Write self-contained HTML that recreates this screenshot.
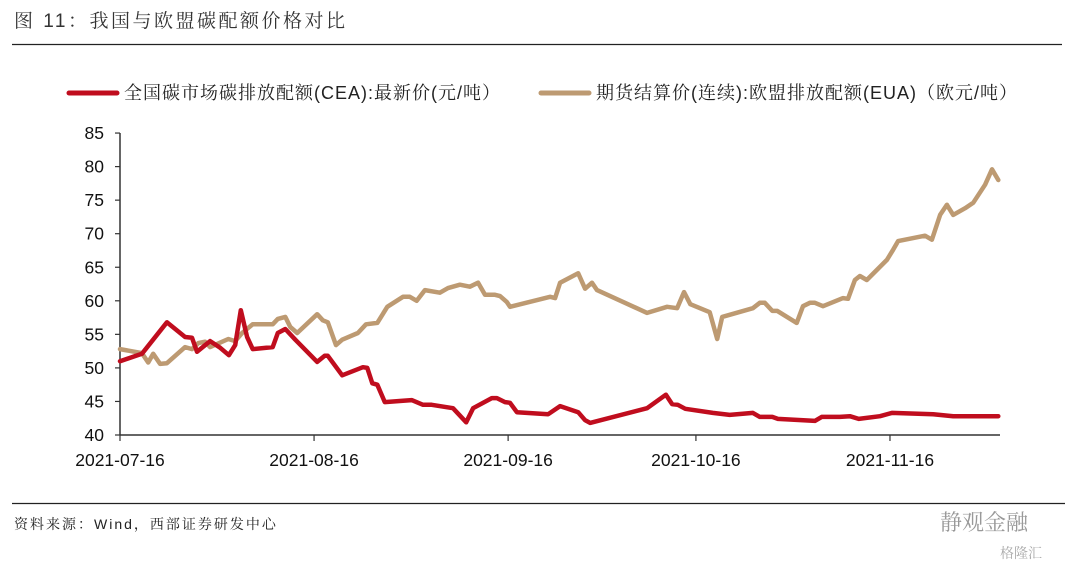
<!DOCTYPE html>
<html><head><meta charset="utf-8">
<style>
body{margin:0;background:#fff;}
#wrap{position:relative;width:1080px;height:570px;overflow:hidden;font-family:"Liberation Sans","Noto Serif CJK SC",serif;}
svg text{font-family:"Liberation Sans","Noto Serif CJK SC",serif;}
</style></head>
<body>
<div id="wrap">
<svg id="chart" width="1080" height="570">
  <text x="14" y="27" font-size="19" letter-spacing="2.5" fill="#333">图 11：我国与欧盟碳配额价格对比</text>
  <line x1="12" y1="44.5" x2="1062" y2="44.5" stroke="#222" stroke-width="1.2"/>
  <g>
    <g>
      <line x1="69" y1="93" x2="117" y2="93" stroke="#c00d1e" stroke-width="5" stroke-linecap="round"/>
      <text x="124" y="99" font-size="18" letter-spacing="1" fill="#222">全国碳市场碳排放配额(CEA):最新价(元/吨）</text>
    </g>
    <g>
      <line x1="541" y1="93" x2="589" y2="93" stroke="#bd9a72" stroke-width="5" stroke-linecap="round"/>
      <text x="596" y="99" font-size="18" letter-spacing="1" fill="#222">期货结算价(连续):欧盟排放配额(EUA)（欧元/吨）</text>
    </g>
  </g>
  <g id="axes"></g>
  <g id="series"></g>
  <line x1="12" y1="503.5" x2="1065" y2="503.5" stroke="#222" stroke-width="1.2"/>
  <text x="14" y="529" font-size="14" letter-spacing="2" fill="#222">资料来源：Wind，西部证券研发中心</text>
  <text x="940" y="530" font-size="22" fill="#999">静观金融</text>
  <text x="1000" y="558" font-size="14" fill="#aaa">格隆汇</text>
</svg>
</div>
<script>
// x: days since 2021-07-16
const xTickDays = [0, 31, 62, 92, 123];
const xTickLabels = ["2021-07-16","2021-08-16","2021-09-16","2021-10-16","2021-11-16"];
const yTicks = [40,45,50,55,60,65,70,75,80,85];
const ceaDays = [0,3.5,7.5,10.4,11.5,12.3,14.4,16,17.4,18.4,19.3,20.3,21.2,24.4,25.2,26.4,28,31.5,32.7,33.2,35.5,38.8,39.5,40.3,41.1,42.3,45.2,46.6,48.4,49.8,53.2,55.3,56.4,59.4,60.2,61.5,62.3,63.4,68.4,70.3,73.2,74.3,75.1,84.2,87.2,88.2,89.1,90.3,94.7,97.4,101.1,102.2,104.2,105.1,111,112.1,115,116.6,118,121.4,123.3,129.9,133.1,140.3];
const ceaValues = [51.0,52.1,56.8,54.6,54.5,52.4,54.0,53.0,51.9,53.4,58.6,54.6,52.8,53.1,55.2,55.8,54.2,50.9,51.8,51.8,48.9,50.1,50.0,47.7,47.5,44.9,45.1,45.2,44.5,44.5,44.0,41.9,44.0,45.5,45.5,44.9,44.8,43.4,43.1,44.3,43.4,42.2,41.8,44.0,46.0,44.6,44.5,43.9,43.3,43.0,43.3,42.7,42.7,42.4,42.1,42.7,42.7,42.8,42.4,42.8,43.3,43.1,42.8,42.8];
const euaDays = [0,3.5,4.5,5.3,6.4,7.5,10.4,11.5,12.5,13.6,14.4,17.3,18.4,19.5,21.2,24.4,25.2,26.4,27.2,28.3,31.5,32.4,33.2,34.5,35.5,38,39.3,41.1,42.7,45.2,46.3,47.4,48.7,51.1,52.4,54.3,55.9,57.2,58.3,59.9,60.7,61.8,62.3,68.7,69.5,70.3,73.2,74.3,75.4,76.2,84.2,87.4,89,90.1,91.1,94.2,95.4,96.2,101.1,102.2,103,104.2,105,108.1,109.1,110.2,111,112.3,115.5,116.3,117.4,118.2,119.3,122.5,123.5,124.3,125.4,128.6,129.7,131,132.1,133.1,135,136.3,138.2,139.3,140.3];
const euaValues = [52.8,52.2,50.8,52.1,50.6,50.7,53.1,52.8,53.7,53.9,53.1,54.3,54.0,55.2,56.5,56.5,57.3,57.6,56.1,55.2,58.0,57.1,56.8,53.4,54.2,55.2,56.5,56.7,59.1,60.6,60.6,60.0,61.6,61.2,61.9,62.4,62.1,62.7,60.9,60.9,60.7,59.8,59.1,60.6,60.4,62.7,64.1,61.8,62.7,61.6,58.2,59.1,58.9,61.3,59.5,58.3,54.3,57.6,58.9,59.7,59.7,58.5,58.5,56.7,59.2,59.7,59.7,59.2,60.4,60.3,63.1,63.7,63.1,66.1,67.6,68.9,69.1,69.7,69.1,72.8,74.3,72.8,73.8,74.6,77.3,79.6,78.0];

const NS = "http://www.w3.org/2000/svg";
const X0 = 120, PXD = 6.26, Y0 = 435, PXV = 6.71;
function xScale(d){ return X0 + d * PXD; }
function yScale(v){ return Y0 - (v - 40) * PXV; }
function mk(tag, attrs, parent){ const e = document.createElementNS(NS, tag); for (const k in attrs) e.setAttribute(k, attrs[k]); parent.appendChild(e); return e; }

const axes = document.getElementById('axes');
const yAxis = mk('line', {x1:X0, y1:yScale(85), x2:X0, y2:Y0, stroke:'#333', 'stroke-width':1.5}, axes);


const xAxis = mk('line', {x1:X0, y1:Y0, x2:1000, y2:Y0, stroke:'#333', 'stroke-width':1.5}, axes);


yTicks.forEach(v => {
  const y = yScale(v);
  const t = mk('line', {x1:X0-5, y1:y, x2:X0, y2:y, stroke:'#333', 'stroke-width':1.2}, axes);
  
  
  const l = mk('text', {x:104, y:y+6, 'font-size':17.5, fill:'#111', 'text-anchor':'end'}, axes);
  l.textContent = v;
  
  
});
xTickDays.forEach((d, i) => {
  const x = xScale(d);
  const t = mk('line', {x1:x, y1:Y0, x2:x, y2:Y0+6, stroke:'#333', 'stroke-width':1.2}, axes);
  
  
  const l = mk('text', {x:x, y:466, 'font-size':17.5, fill:'#111', 'text-anchor':'middle'}, axes);
  l.textContent = xTickLabels[i];
  
  
});

const series = document.getElementById('series');
function drawLine(days, vals, color, name){
  const pts = days.map((d, i) => xScale(d).toFixed(1) + ',' + yScale(vals[i]).toFixed(1)).join(' ');
  const p = mk('polyline', {points:pts, fill:'none', stroke:color, 'stroke-width':4.5, 'stroke-linejoin':'round', 'stroke-linecap':'round'}, series);
  
  
}
drawLine(euaDays, euaValues, '#bd9a72', 'eua-line');
drawLine(ceaDays, ceaValues, '#c00d1e', 'cea-line');
</script>
</body></html>
